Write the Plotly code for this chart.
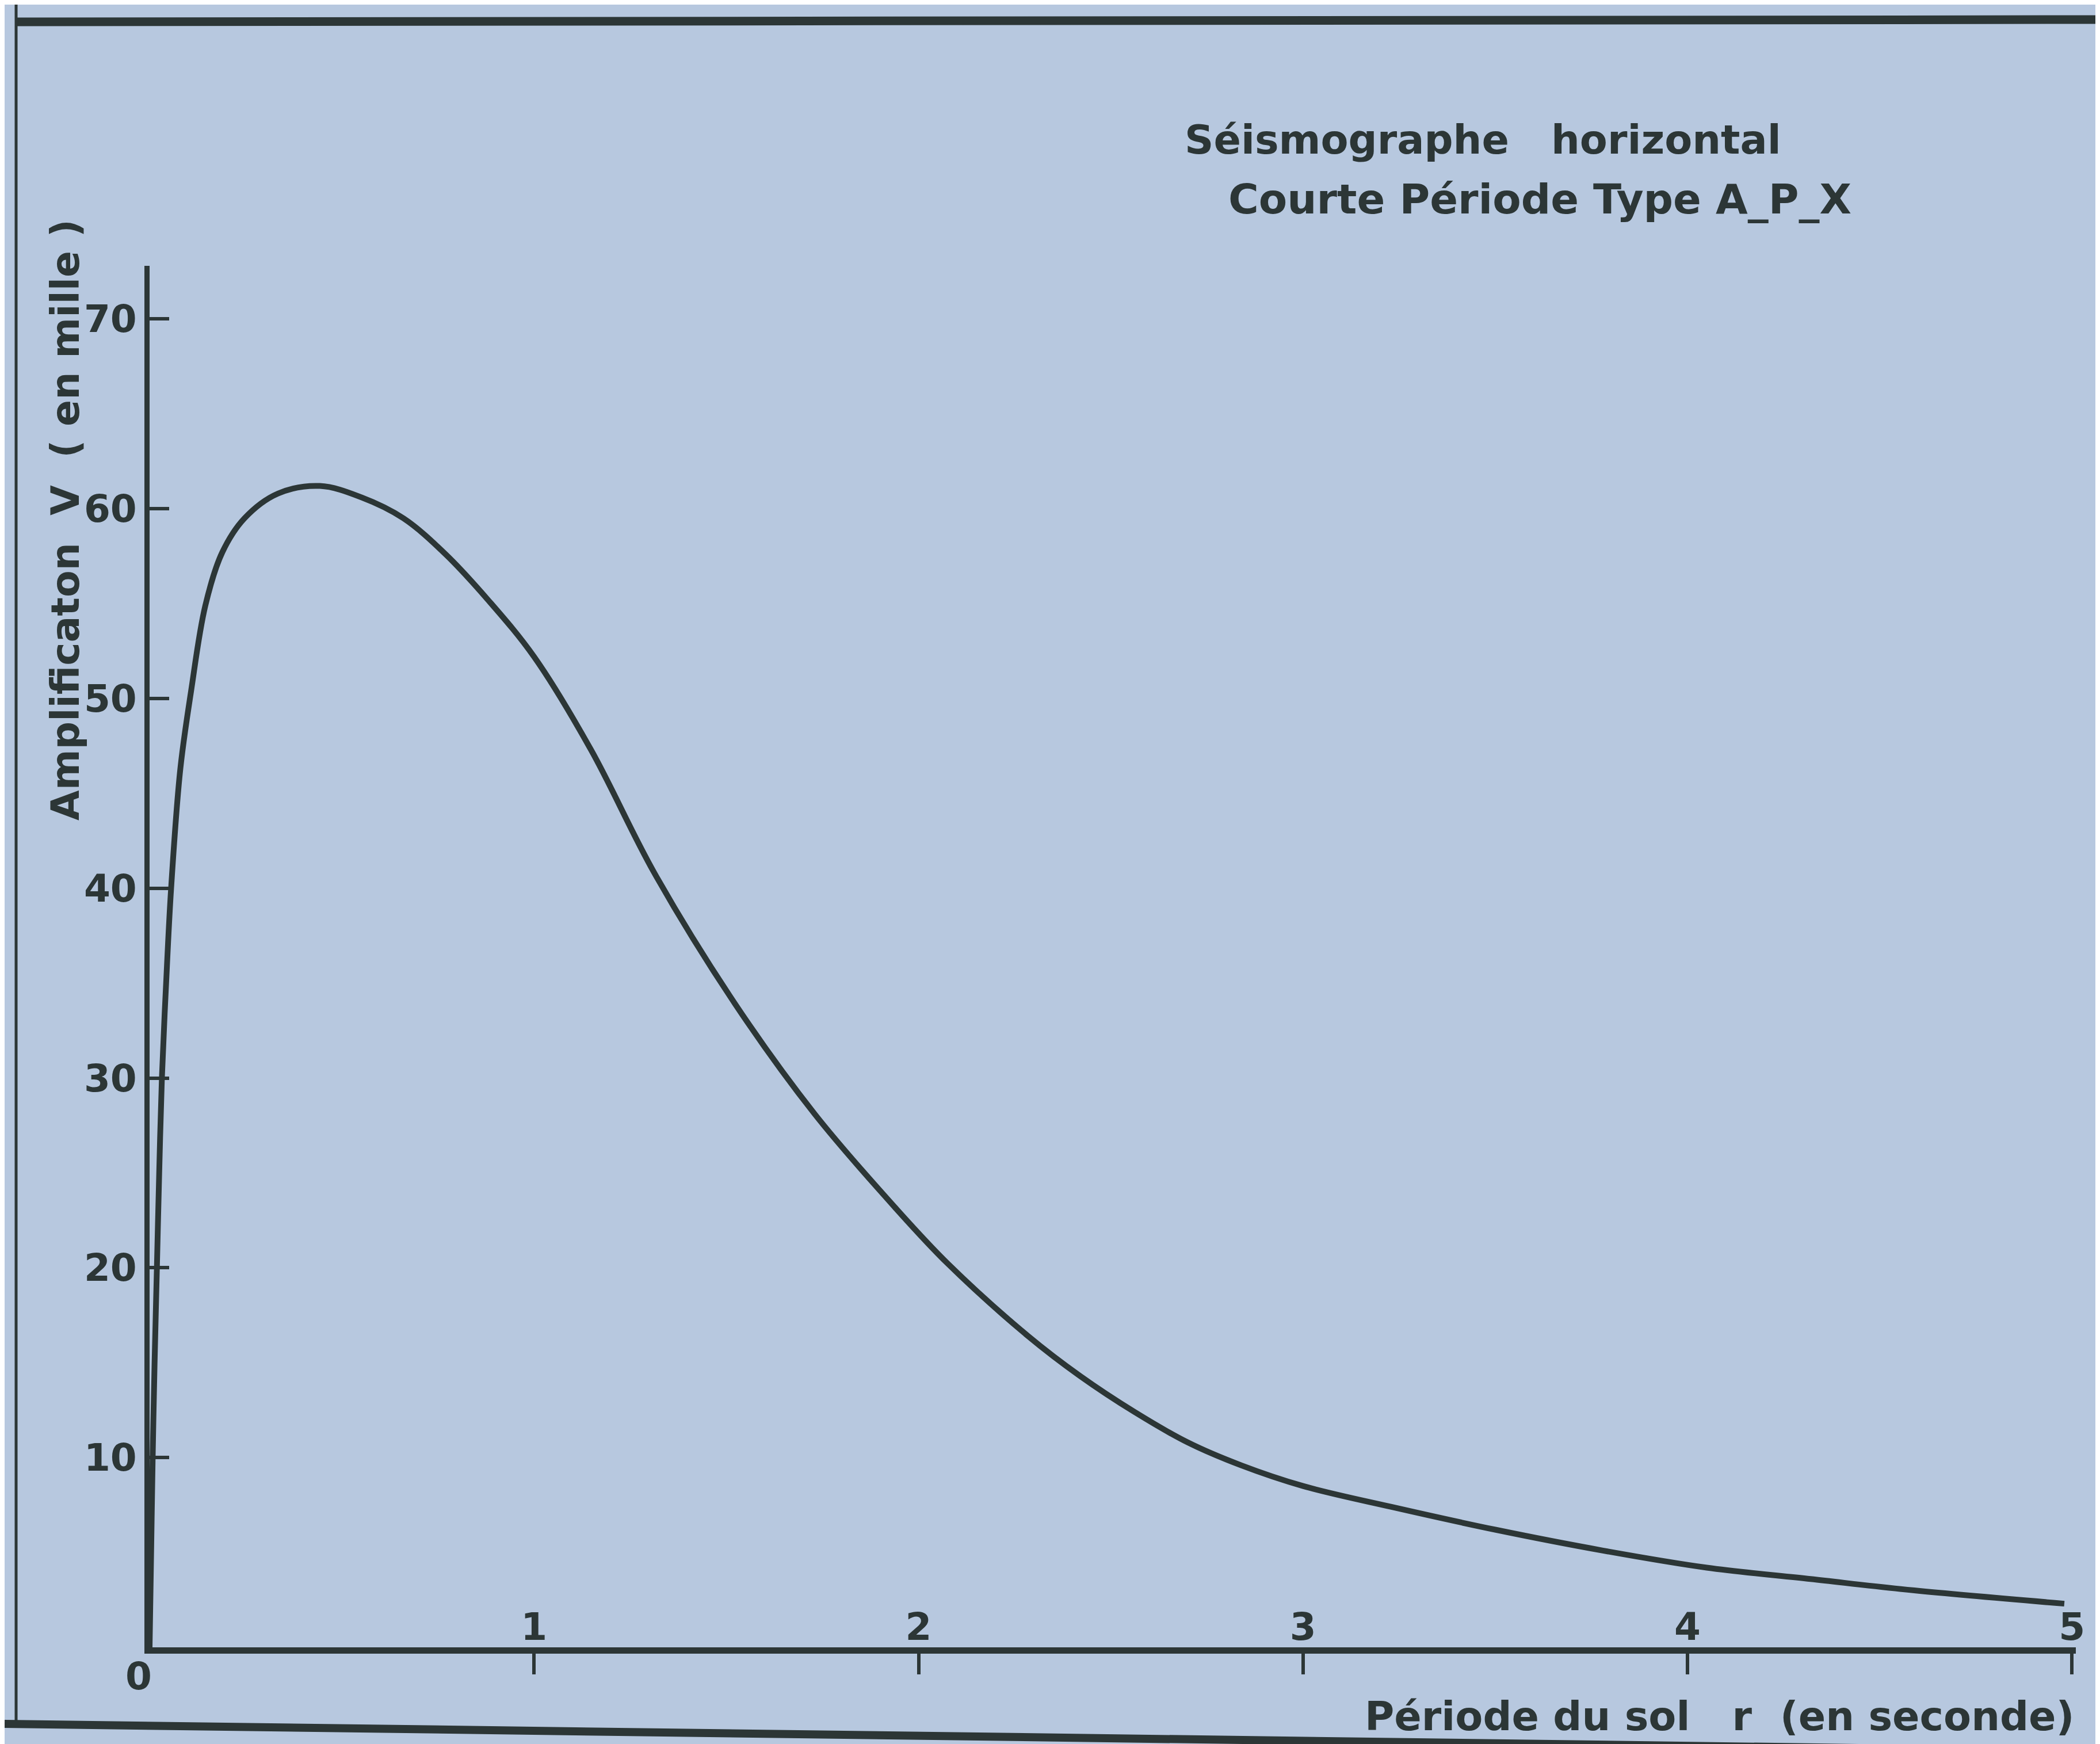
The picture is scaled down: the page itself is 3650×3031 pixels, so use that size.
import plotly.graph_objects as go

# ---- data (period in s, amplification in thousands) ----
period = [0.000, 0.004, 0.008, 0.013, 0.019, 0.025, 0.032, 0.043, 0.056, 0.080,
          0.108, 0.145, 0.189, 0.247, 0.334, 0.443, 0.551, 0.660, 0.770, 0.880,
          1.000, 1.148, 1.313, 1.523, 1.730, 1.938, 2.077, 2.285, 2.420, 2.562,
          2.700, 2.838, 3.000, 3.230, 3.500, 3.780, 4.050, 4.320, 4.590, 4.980]
amplification = [0.0, 5.0, 10.0, 15.0, 20.0, 25.0, 30.0, 35.0, 40.0, 46.3,
                 50.4, 54.9, 57.7, 59.5, 60.8, 61.2, 60.6, 59.5, 57.6, 55.2,
                 52.2, 47.3, 40.8, 33.9, 28.1, 23.2, 20.2, 16.4, 14.3, 12.4,
                 10.8, 9.6, 8.5, 7.4, 6.2, 5.1, 4.2, 3.6, 3.0, 2.3]
x_ticks = [1, 2, 3, 4, 5]
y_ticks = [10, 20, 30, 40, 50, 60, 70]

title_line1 = "Séismographe   horizontal"
title_line2 = "Courte Période Type A_P_X"
x_title = "Période du sol   r  (en seconde)"
y_title = "Amplificaton  V  ( en mille )"

# ---- styling ----
W, H = 3650, 3031
ML, MR, MT, MB = 252, 50, 454, 176
INK = "#2c3636"
PAPER = "#b7c8df"
FONT = "DejaVu Sans"

plot_w = W - ML - MR
plot_h = H - MT - MB


def px(xpix):
    return (xpix - ML) / plot_w


def py(ypix):
    return (H - MB - ypix) / plot_h


fig = go.Figure()
fig.add_trace(go.Scatter(
    x=period, y=amplification, mode="lines",
    line=dict(color=INK, width=10, shape="spline", smoothing=1.0),
    hoverinfo="skip", showlegend=False,
))

fig.update_layout(
    width=W, height=H,
    margin=dict(l=ML, r=MR, t=MT, b=MB),
    paper_bgcolor=PAPER, plot_bgcolor=PAPER,
    font=dict(family=FONT, color=INK, size=70, weight=700),
    showlegend=False,
    xaxis=dict(
        range=[0, 5.01], tickvals=x_ticks, ticktext=[str(v) for v in x_ticks],
        showgrid=False, zeroline=False, showline=True, linecolor=INK, linewidth=11,
        ticks="outside", ticklen=36, tickwidth=6, tickcolor=INK,
        ticklabelposition="inside", ticklabeloverflow="allow", ticklabelstandoff=10,
        tickfont=dict(size=66, family=FONT, color=INK, weight=700),
    ),
    yaxis=dict(
        range=[0, 72.8], tickvals=y_ticks, ticktext=[str(v) for v in y_ticks],
        showgrid=False, zeroline=False, showline=True, linecolor=INK, linewidth=9,
        ticks="inside", ticklen=34, tickwidth=6, tickcolor=INK,
        tickfont=dict(size=66, family=FONT, color=INK, weight=700),
    ),
)

ann = [
    dict(text=title_line1, x=px(2049), y=py(235), xanchor="left", yanchor="middle",
         font=dict(size=70)),
    dict(text=title_line2, x=px(2125), y=py(338), xanchor="left", yanchor="middle",
         font=dict(size=72)),
    dict(text=x_title, x=px(3600), y=py(2975), xanchor="right", yanchor="middle",
         font=dict(size=70)),
    dict(text=y_title, x=px(105), y=py(896), xanchor="center", yanchor="middle",
         textangle=-90, font=dict(size=68)),
    dict(text="0", x=px(233), y=py(2905), xanchor="center", yanchor="middle",
         font=dict(size=66)),
]
for a in ann:
    a.update(xref="paper", yref="paper", showarrow=False)
    fig.add_annotation(**a)

# page frame lines (top rule, left rule, bottom rule)
shapes = [
    dict(x0=px(22), x1=px(W), y0=py(30), y1=py(26), width=15),
    dict(x0=px(20), x1=px(20), y0=py(0), y1=py(2992), width=5),
    dict(x0=px(0), x1=px(3300), y0=py(2988), y1=py(3031), width=14),
]
for s in shapes:
    fig.add_shape(type="line", xref="paper", yref="paper",
                  x0=s["x0"], x1=s["x1"], y0=s["y0"], y1=s["y1"],
                  line=dict(color=INK, width=s["width"]), layer="above")

fig.write_html("out.html")
